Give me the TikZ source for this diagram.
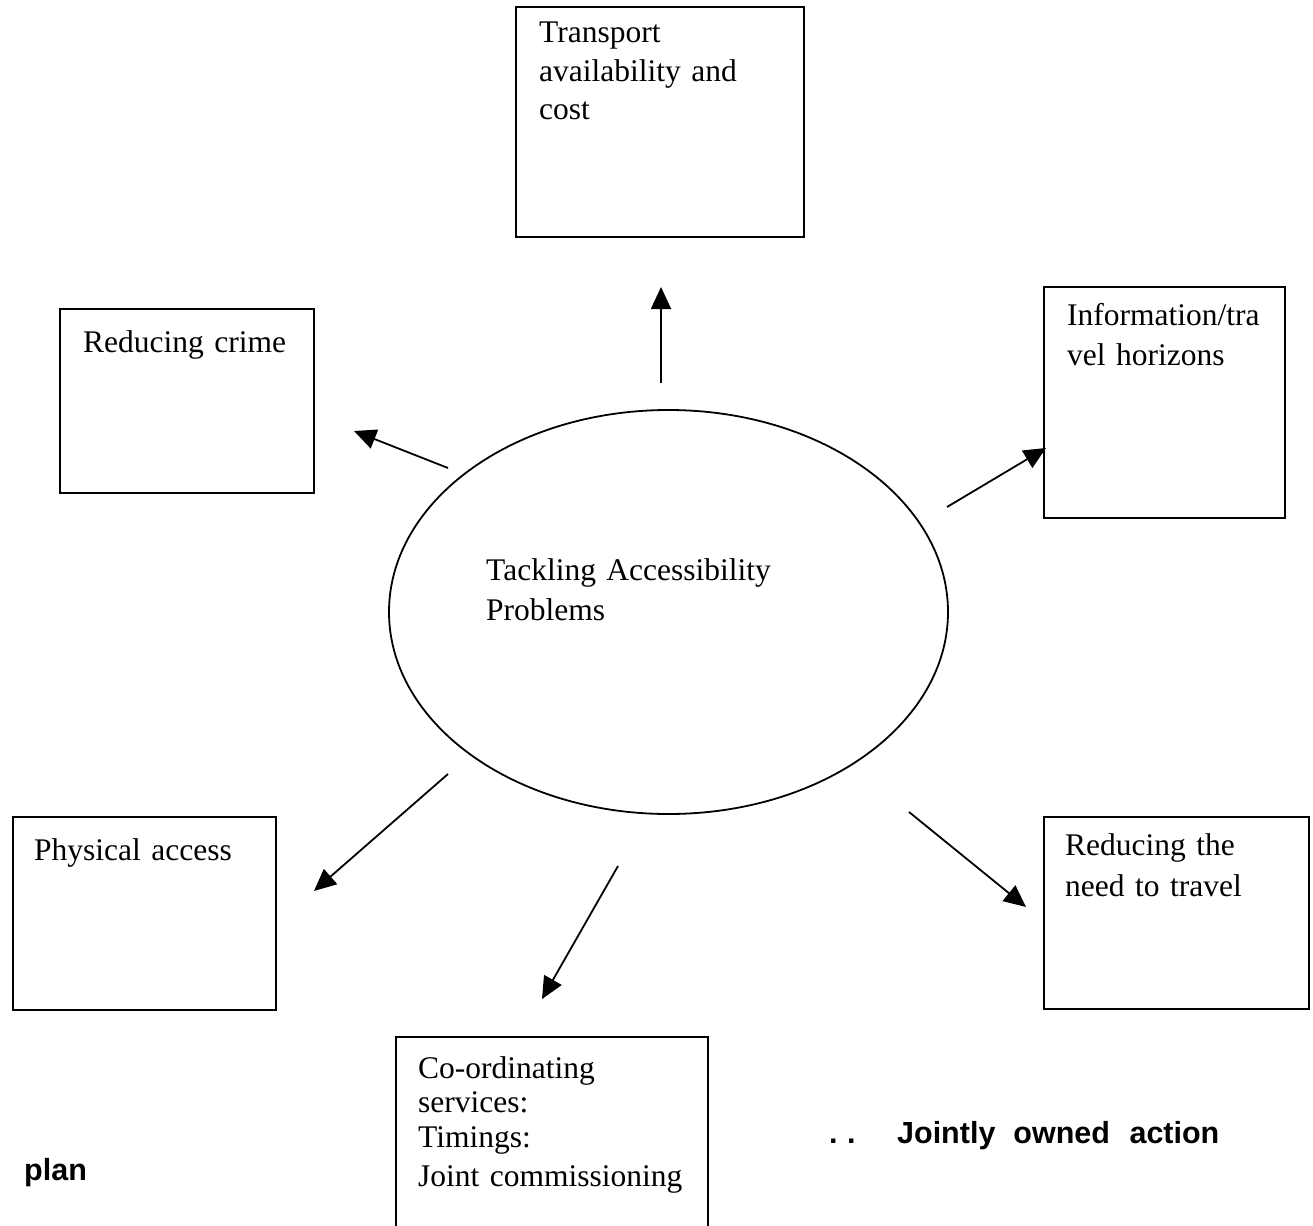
\documentclass[tikz,border=0pt]{standalone}
\usepackage{fontspec}
\setmainfont{Liberation Serif}
\setsansfont{Liberation Sans}
\usetikzlibrary{arrows.meta,shapes.geometric,calc}
\begin{document}
\begin{tikzpicture}[x=1pt,y=-1pt,
  box/.style={draw, line width=1.8pt, inner sep=0pt, anchor=north west},
  txt/.style={inner sep=0pt, anchor=base west, align=left, text width=330pt},
  arr/.style={line width=1.8pt, -{Triangle[length=22pt,width=20pt]}},
  boldtxt/.style={inner sep=0pt, anchor=base west, font=\sffamily\bfseries\fontsize{30.5}{36}\selectfont}]
\useasboundingbox (0,0) rectangle (1313,1225);
\fill[white] (0,0) rectangle (1313,1225);

% boxes
\node[box, minimum width=288pt, minimum height=230pt] (tr) at (515,6) {};
\node[box, minimum width=254pt, minimum height=184pt] (crime) at (59,308) {};
\node[box, minimum width=241pt, minimum height=231pt] (info) at (1043,286) {};
\node[box, minimum width=263pt, minimum height=193pt] (phys) at (12,816) {};
\node[box, minimum width=265pt, minimum height=192pt] (need) at (1043,816) {};
\node[box, minimum width=312pt, minimum height=210pt] (coord) at (395,1036) {};

% central ellipse
\node[draw, ellipse, line width=1.8pt, inner sep=0pt, minimum width=559pt, minimum height=404pt] (c) at (668.5,612) {};

% texts
\node[txt, font=\fontsize{31.5}{38.5}\selectfont] (trt) at ($(tr.north west)+(24,37)$) {Transport\\availability and\\cost};
\node[txt, font=\fontsize{31.5}{40}\selectfont] (crimet) at ($(crime.north west)+(24,44)$) {Reducing crime};
\node[txt, font=\fontsize{31.5}{40}\selectfont] (infot) at ($(info.north west)+(24,39)$) {Information/tra\\vel horizons};
\node[txt, font=\fontsize{31.5}{40}\selectfont] (ct) at (486,580) {Tackling Accessibility\\Problems};
\node[txt, font=\fontsize{31.5}{40}\selectfont] (physt) at ($(phys.north west)+(22,44)$) {Physical access};
\node[txt, font=\fontsize{31.5}{41}\selectfont] (needt) at ($(need.north west)+(22,39)$) {Reducing the\\need to travel};
\node[txt, font=\fontsize{31.5}{34.5}\selectfont] (coordt) at ($(coord.north west)+(23,42)$) {Co-ordinating\\services:\\Timings:\\[5pt]Joint commissioning};

\node[boldtxt] (joint) at (829,1143) {.\hspace{9.5pt}.\hspace{41.5pt}Jointly\hspace{18pt}owned\hspace{19.5pt}action};
\node[boldtxt] (plan) at (24,1180) {plan};

% connector end points
\coordinate (a1s) at (661,383); \coordinate (a1e) at (661,287);
\coordinate (a2s) at (448,468); \coordinate (a2e) at (354,431);
\coordinate (a3s) at (947,507); \coordinate (a3e) at (1046,448);
\coordinate (a4s) at (448,774); \coordinate (a4e) at (314,891);
\coordinate (a5s) at (618,866); \coordinate (a5e) at (542,999);
\coordinate (a6s) at (909,812); \coordinate (a6e) at (1026,907);

\draw[arr] (a1s) -- (a1e);
\draw[arr] (a2s) -- (a2e);
\draw[arr] (a3s) -- (a3e);
\draw[arr] (a4s) -- (a4e);
\draw[arr] (a5s) -- (a5e);
\draw[arr] (a6s) -- (a6e);
\end{tikzpicture}
\end{document}
